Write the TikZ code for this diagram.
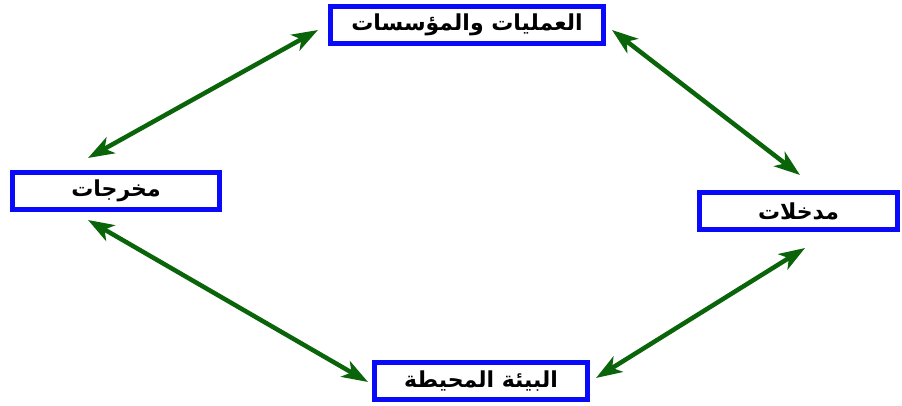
\documentclass[tikz,border=0pt]{standalone}
\usepackage{fontspec}
\usetikzlibrary{arrows.meta}
\TeXXeTstate=1
\newfontfamily\arabicfont[Script=Arabic]{DejaVu Sans}
\definecolor{cbox}{RGB}{10,10,250}
\definecolor{clink}{RGB}{10,100,10}
\newcommand{\ar}[1]{\arabicfont\bfseries\beginR #1\endR}

\begin{document}
\begin{tikzpicture}[x=1pt, y=1pt,
  box/.style={draw=cbox, line width=5pt, fill=white, inner sep=0pt,
    minimum height=37pt, font=\fontsize{22}{24}\selectfont},
  link/.style={{Stealth[length=26pt,width=18pt,inset=7pt]}-{Stealth[length=26pt,width=18pt,inset=7pt]},
    draw=clink, fill=clink, line width=4.5pt}]
\useasboundingbox (0,0) rectangle (902,406);
\node[box, minimum width=273pt] (ops) at (467,381) {\ar{العمليات والمؤسسات}};
\node[box, minimum width=207pt] (outp) at (116,215) {\ar{مخرجات}};
\node[box, minimum width=198pt] (inp) at (798.5,195) {\ar{مدخلات}};
\node[box, minimum width=213pt] (env) at (481,25) {\ar{البيئة المحيطة}};
% free ends of the arrows, just off the boxes
\coordinate (a1) at (88,248);  \coordinate (b1) at (318,376);
\coordinate (a2) at (612,376); \coordinate (b2) at (800,231);
\coordinate (a3) at (88,186);  \coordinate (b3) at (368,24);
\coordinate (a4) at (596,28);  \coordinate (b4) at (805,158);
\draw[link] (a1) -- (b1);
\draw[link] (a2) -- (b2);
\draw[link] (a3) -- (b3);
\draw[link] (a4) -- (b4);
\end{tikzpicture}
\end{document}
